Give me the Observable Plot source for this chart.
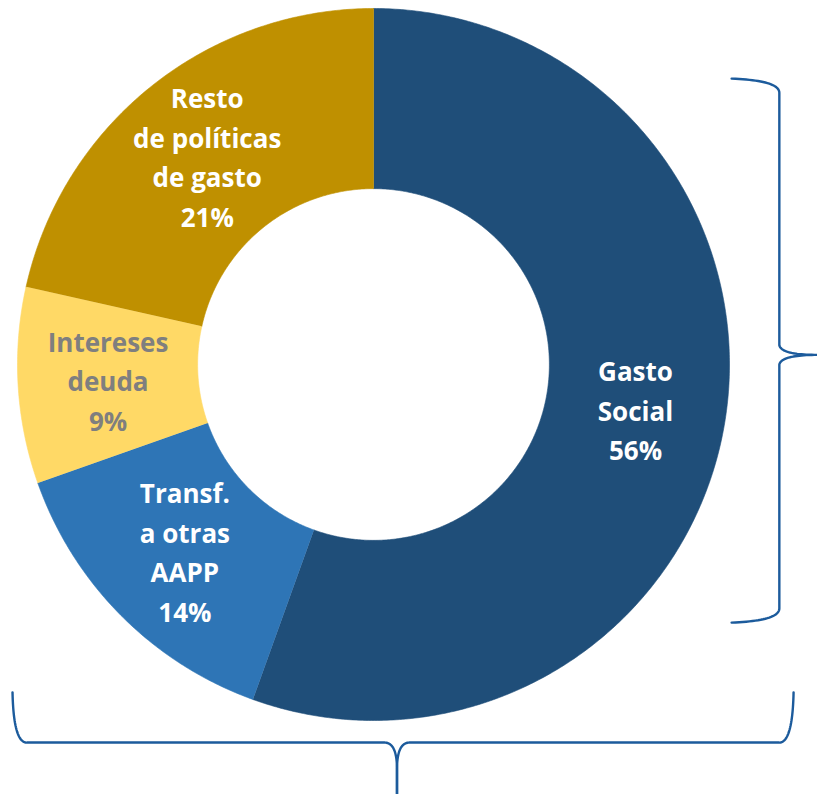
<!DOCTYPE html>
<html><head><meta charset="utf-8">
<script src="https://cdn.jsdelivr.net/npm/d3@7"></script>
<script src="https://cdn.jsdelivr.net/npm/@observablehq/plot@0.6"></script>
<style>html,body{margin:0;padding:0;background:#fff;}</style>
</head><body><div id="chart"></div>
<script>
// ---- data ----
const categories = ["Gasto Social", "Transf. a otras AAPP", "Intereses deuda", "Resto de políticas de gasto"];
const shares = [55.5, 14.1, 8.9, 21.5];
const labelLines = ["Gasto\nSocial", "Transf.\na otras\nAAPP", "Intereses\ndeuda", "Resto\nde políticas\nde gasto"];
const percentLabels = ["56%", "14%", "9%", "21%"];
const colors = ["#1F4E79", "#2E75B6", "#FFD966", "#BF9000"];
const darkLabel = ["Intereses deuda"];
const innerRatio = 0.494;

// ---- annotation (braces) geometry, in chart units (outer radius = 1) ----
const rightBrace = {x: 1.140, yTop: 0.803, yBottom: -0.725, armX: 1.006, tipX: 1.247, tipY: 0.027};
const bottomBrace = {y: -1.062, xLeft: -1.014, xRight: 1.180, yEnds: -0.921, tipX: 0.066, tipY: -1.23};

// ---- geometry from data ----
const arcs = d3.pie().sort(null).value(d => d)(shares);
const slicePoints = [];
arcs.forEach((p, i) => {
  const n = Math.max(2, Math.ceil((p.endAngle - p.startAngle) / (Math.PI / 360)));
  for (let k = 0; k <= n; k++) {
    const a = p.startAngle + (p.endAngle - p.startAngle) * k / n;
    slicePoints.push({cat: categories[i], x: Math.sin(a), y: Math.cos(a)});
  }
  for (let k = n; k >= 0; k--) {
    const a = p.startAngle + (p.endAngle - p.startAngle) * k / n;
    slicePoints.push({cat: categories[i], x: innerRatio * Math.sin(a), y: innerRatio * Math.cos(a)});
  }
});
const labels = arcs.map((p, i) => {
  const a = (p.startAngle + p.endAngle) / 2, r = (1 + innerRatio) / 2;
  return {cat: categories[i], text: labelLines[i] + "\n" + percentLabels[i], x: r * Math.sin(a), y: r * Math.cos(a)};
});

function quad(p0, c, p1, n = 24) {
  const out = [];
  for (let k = 0; k <= n; k++) {
    const t = k / n, u = 1 - t;
    out.push([u*u*p0[0] + 2*u*t*c[0] + t*t*p1[0], u*u*p0[1] + 2*u*t*c[1] + t*t*p1[1]]);
  }
  return out;
}
const braces = [];
function addPart(name, pts) { pts.forEach(([x, y]) => braces.push({part: name, x, y})); }
{
  const b = rightBrace;
  addPart("right", [
    ...quad([b.armX, b.yTop], [b.x, b.yTop - 0.005], [b.x, b.yTop - 0.04]),
    ...quad([b.x, b.tipY + 0.027], [b.x + 0.006, b.tipY], [b.tipX, b.tipY]),
    ...quad([b.tipX, b.tipY], [b.x + 0.006, b.tipY], [b.x, b.tipY - 0.027]),
    ...quad([b.x, b.yBottom + 0.04], [b.x, b.yBottom + 0.005], [b.armX, b.yBottom])
  ]);
}
{
  const b = bottomBrace;
  addPart("bl", [
    ...quad([b.xLeft, b.yEnds], [b.xLeft + 0.003, b.y], [b.xLeft + 0.04, b.y]),
    ...quad([b.tipX - 0.035, b.y], [b.tipX, b.y], [b.tipX, b.y - 0.075]),
    [b.tipX, b.tipY]
  ]);
  addPart("br", [
    ...quad([b.xRight, b.yEnds], [b.xRight - 0.003, b.y], [b.xRight - 0.04, b.y]),
    ...quad([b.tipX + 0.035, b.y], [b.tipX, b.y], [b.tipX, b.y - 0.075]),
    [b.tipX, b.tipY]
  ]);
}

const textOpts = {x: "x", y: "y", text: "text", fontSize: 26, fontWeight: 700, dy: -2,
  fontFamily: "'Open Sans', 'Noto Sans', sans-serif", lineHeight: 1.52, lineAnchor: "middle", textAnchor: "middle"};

const chart = Plot.plot({
  width: 817, height: 794, margin: 0,
  style: {background: "#ffffff"},
  x: {domain: [-1, 1], range: [17, 729], axis: null},
  y: {domain: [-1, 1], range: [720, 8], axis: null},
  color: {domain: categories, range: colors},
  marks: [
    Plot.line(slicePoints, {x: "x", y: "y", z: "cat", fill: "cat", stroke: "cat", strokeWidth: 0.6, curve: "linear"}),
    Plot.text(labels.filter(d => !darkLabel.includes(d.cat)), {...textOpts, fill: "#ffffff"}),
    Plot.text(labels.filter(d => darkLabel.includes(d.cat)), {...textOpts, fill: "#7F7F7F"}),
    Plot.line(braces, {x: "x", y: "y", z: "part", stroke: "#1c5b9c", strokeWidth: 2.4, curve: "linear"})
  ]
});
document.getElementById("chart").appendChild(chart);
</script>
</body></html>
